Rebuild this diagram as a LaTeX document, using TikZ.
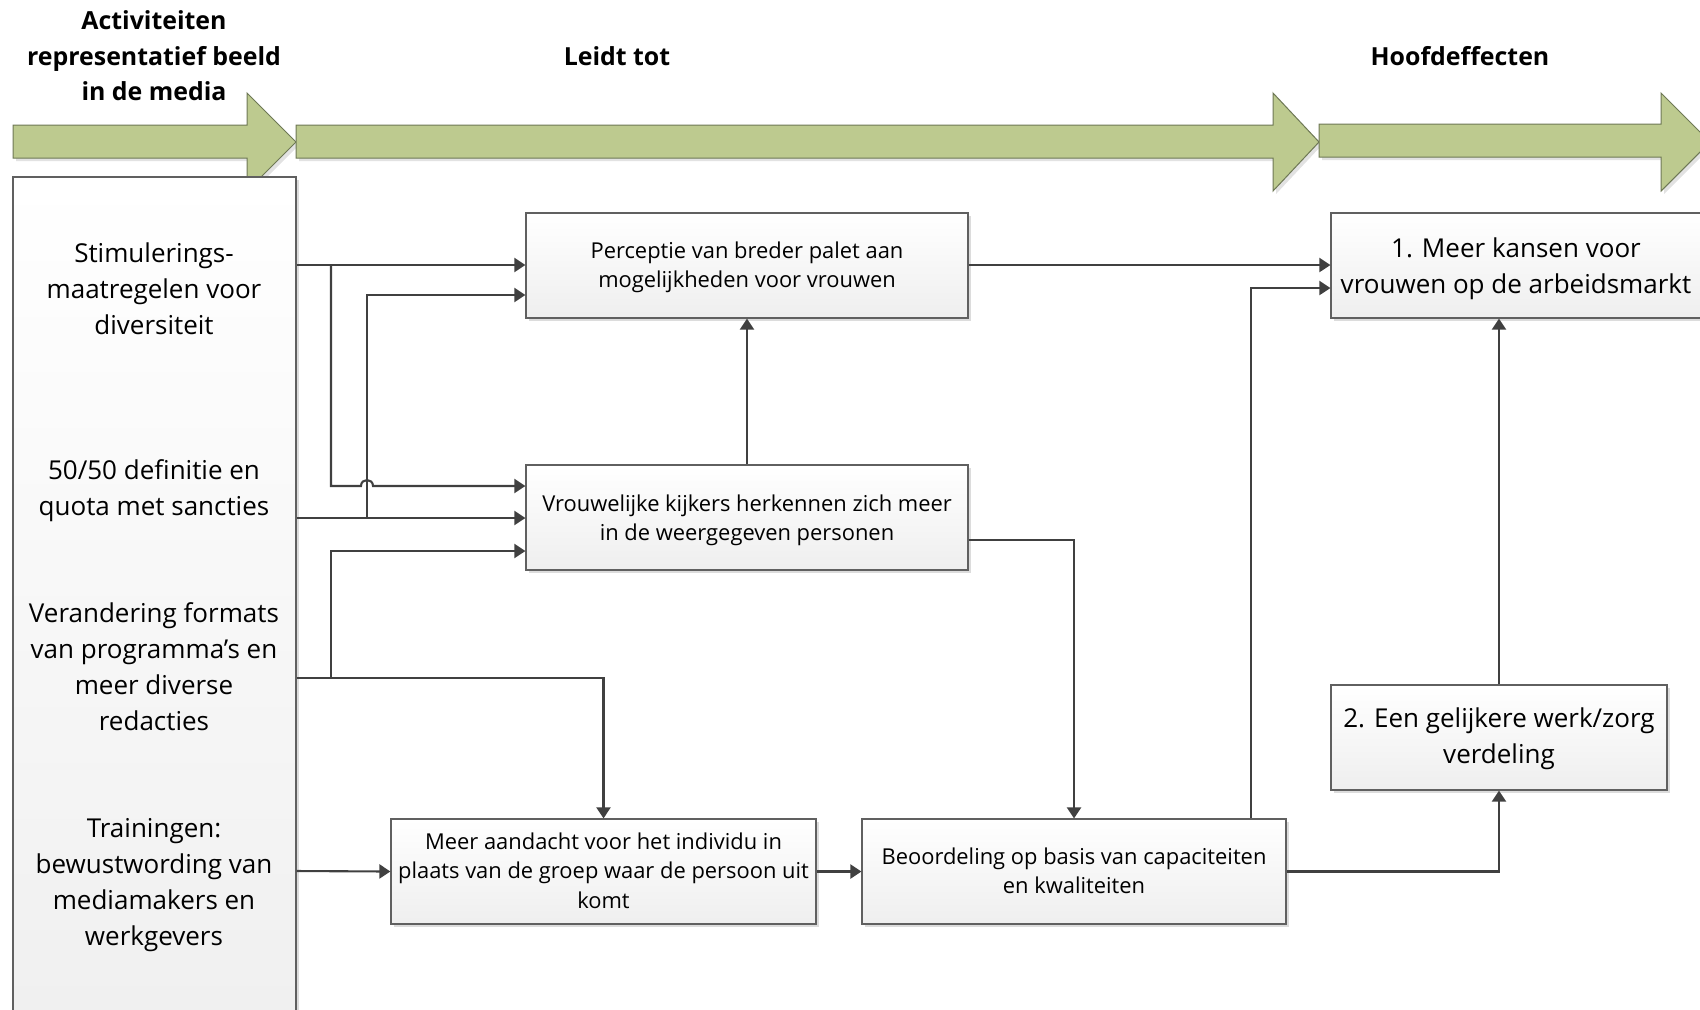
\documentclass[tikz,border=0pt]{standalone}
\usepackage{fontspec}
\setmainfont{Open Sans}[Ligatures=NoCommon]
\usetikzlibrary{arrows.meta,shadows}
\definecolor{ln}{HTML}{404040}
\definecolor{grn}{RGB}{189,202,143}
\definecolor{grnd}{RGB}{110,120,85}
\begin{document}
\begin{tikzpicture}[x=0.5pt,y=-0.5pt,
  box/.style={draw=gray!75!black, line width=0.6pt, top color=white, bottom color=gray!13,
    drop shadow={shadow xshift=1.6pt,shadow yshift=-1.6pt,fill=gray!60,opacity=0.45},
    inner sep=0pt, minimum height=52.5pt},
  btxt/.style={align=center, inner sep=0pt, font=\fontsize{10.95}{14.7}\selectfont},
  bigtxt/.style={align=center, inner sep=0pt, font=\fontsize{13}{18}\selectfont},
  lefttxt/.style={align=center, inner sep=0pt, font=\fontsize{13}{18}\selectfont},
  head/.style={align=center, inner sep=0pt, font=\bfseries\fontsize{12.45}{17.75}\selectfont},
  conn/.style={draw=ln, line width=1.05pt, -{Triangle[length=5.5pt,width=7pt]}},
  bigarrow/.style={fill=grn, draw=grnd, line width=0.5pt},
  arrshadow/.style={fill=gray!45, opacity=0.5}]
\useasboundingbox (0,0) rectangle (1700,1009);
\clip (0,0) rectangle (1700,1009);

% big process arrows
\fill[arrshadow] (16,128) -- (250,128) -- (250,96) -- (299,145) -- (250,194) -- (250,161) -- (16,161) -- cycle;
\path[bigarrow] (13,125) -- (247,125) -- (247,93) -- (296,142) -- (247,191) -- (247,158) -- (13,158) -- cycle;
\fill[arrshadow] (299,128) -- (1276,128) -- (1276,96) -- (1322,145) -- (1276,194) -- (1276,161) -- (299,161) -- cycle;
\path[bigarrow] (296,125) -- (1273,125) -- (1273,93) -- (1319,142) -- (1273,191) -- (1273,158) -- (296,158) -- cycle;
\fill[arrshadow] (1322,127) -- (1664,127) -- (1664,96) -- (1713,145) -- (1664,194) -- (1664,160) -- (1322,160) -- cycle;
\path[bigarrow] (1319,124) -- (1661,124) -- (1661,93) -- (1710,142) -- (1661,191) -- (1661,157) -- (1319,157) -- cycle;

% headers
\node[head] (h1) at (154,56) {Activiteiten\\representatief beeld\\in de media};
\node[head] (h2) at (617,56) {Leidt tot};
\node[head] (h3) at (1460,56) {Hoofdeffecten};

% left column
\node[draw=gray!75!black, line width=0.6pt, top color=white, bottom color=gray!12,
  drop shadow={shadow xshift=1.6pt,shadow yshift=-1.6pt,fill=gray!60,opacity=0.45},
  minimum width=141.5pt, minimum height=426.5pt, inner sep=0pt] (L) at (154.5,603.5) {};
\node[lefttxt] (t1) at (154,289) {Stimulerings-\\maatregelen voor\\diversiteit};
\node[lefttxt] (t2) at (154,490.5) {50/50 definitie en\\quota met sancties};
\node[lefttxt] (t3) at (154,667) {Verandering formats\\van programma’s en\\meer diverse\\redacties};
\node[lefttxt] (t4) at (154,885) {Trainingen:\\bewustwording van\\mediamakers en\\werkgevers};

% boxes
\node[box, minimum width=221pt] (P) at (747,265.5) {};
\node[btxt] (Pt) at ([yshift=-1pt]P.center) {Perceptie van breder palet aan\\mogelijkheden voor vrouwen};
\node[box, minimum width=221pt] (V) at (747,517.5) {};
\node[btxt] (Vt) at ([yshift=-1.5pt]V.center) {Vrouwelijke kijkers herkennen zich meer\\in de weergegeven personen};
\node[box, minimum width=212.5pt] (M) at (603.5,871.5) {};
\node[btxt] (Mt) at ([yshift=0.5pt]M.center) {Meer aandacht voor het individu in\\plaats van de groep waar de persoon uit\\komt};
\node[box, minimum width=212pt] (B) at (1074,871.5) {};
\node[btxt] (Bt) at ([yshift=0.3pt]B.center) {Beoordeling op basis van capaciteiten\\en kwaliteiten};
\node[box, minimum width=185pt] (K) at (1516,265.5) {};
\node[bigtxt] (Kt) at ([yshift=-1.5pt]K.center) {1. Meer kansen voor\\vrouwen op de arbeidsmarkt};
\node[box, minimum width=168pt] (G) at (1499,737.5) {};
\node[bigtxt] (Gt) at ([yshift=-0.8pt]G.center) {2. Een gelijkere werk/zorg\\verdeling};

% connectors
\draw[conn] (L.east |- 0,265) -- (P.west |- 0,265);
\draw[conn] (331,265) -- (331,486) -- (361,486) .. controls (361,478) and (373,478) .. (373,486) -- (V.west |- 0,486);
\draw[conn] (L.east |- 0,518) -- (V.west |- 0,518);
\draw[conn] (367,518) |- (P.west |- 0,295);
\draw[conn] (L.east |- 0,678) -| (M.north);
\draw[conn] (331,678) |- (V.west |- 0,551);
\draw[conn] (L.east |- 0,871) -- (M.west);
\draw[conn] (M.east) -- (B.west);
\draw[conn] (V.north) -- (P.south);
\draw[conn] (V.east |- 0,540) -| (B.north);
\draw[conn] (P.east |- 0,265) -- (K.west |- 0,265);
\draw[conn] (1251,0 |- B.north) |- (K.west |- 0,288);
\draw[conn] (B.east) -| (G.south);
\draw[conn] (G.north) -- (G.north |- K.south);
\end{tikzpicture}
\end{document}
